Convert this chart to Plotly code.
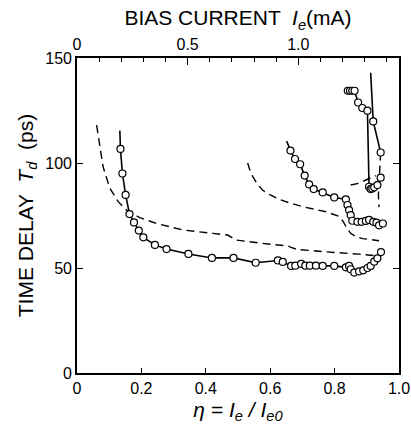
import plotly.graph_objects as go

# ---- data (eta = Ie/Ie0, Td in ps) ----
c1_eta = [0.135, 0.141, 0.151, 0.163, 0.177, 0.192, 0.206, 0.242, 0.278, 0.346, 0.419, 0.486,
          0.555, 0.624, 0.639, 0.665, 0.678, 0.696, 0.709, 0.723, 0.742, 0.763, 0.799, 0.835,
          0.845, 0.850, 0.861, 0.876, 0.889, 0.902, 0.912, 0.923, 0.933, 0.944]
c1_td = [106.7, 95.0, 84.8, 75.7, 71.7, 67.8, 64.6, 61.0, 59.0, 56.7, 54.8, 54.8,
         52.5, 53.6, 52.9, 51.0, 51.1, 52.0, 51.1, 51.1, 51.1, 51.0, 51.0, 50.3,
         51.0, 49.4, 47.8, 48.4, 48.9, 50.0, 51.0, 53.0, 54.6, 57.6]
c1_start_eta = [0.133]
c1_start_td = [115.5]

c2_eta = [0.663, 0.677, 0.693, 0.707, 0.721, 0.735, 0.763, 0.799, 0.835, 0.840, 0.845, 0.850,
          0.855, 0.871, 0.884, 0.897, 0.907, 0.920, 0.930, 0.938, 0.950]
c2_td = [105.9, 101.9, 99.4, 94.0, 89.8, 87.6, 86.0, 83.6, 82.7, 80.0, 77.6, 75.2,
         72.5, 72.0, 72.0, 72.4, 72.9, 72.0, 71.6, 70.3, 71.2]
c2_start_eta = [0.651]
c2_start_td = [110.5]

c3a_eta = [0.841, 0.848, 0.855, 0.862, 0.873, 0.886, 0.902, 0.907, 0.912, 0.917, 0.923]
c3a_td = [134.4, 134.4, 134.4, 134.4, 128.8, 126.2, 124.9, 88.7, 87.6, 87.9, 88.4]

c3b_eta = [0.920, 0.943]
c3b_td = [119.8, 105.0]
c3b_start_eta = [0.912]
c3b_start_td = [143.0]
c3b_extra_eta = [0.943, 0.933]
c3b_extra_td = [93.0, 89.5]

d1_eta = [0.061, 0.071, 0.081, 0.102, 0.128, 0.159, 0.195, 0.247, 0.329, 0.422, 0.468, 0.494,
          0.556, 0.600, 0.655, 0.665, 0.685, 0.720, 0.800, 0.876, 0.930]
d1_td = [118.0, 107.8, 98.2, 88.0, 81.6, 76.8, 74.0, 71.2, 68.1, 66.5, 65.7, 63.3,
         62.0, 61.3, 60.5, 59.8, 58.8, 58.3, 57.4, 56.6, 55.8]

d2_eta = [0.530, 0.536, 0.546, 0.560, 0.577, 0.600, 0.628, 0.660, 0.701, 0.773, 0.814, 0.825,
          0.838, 0.850, 0.865, 0.887, 0.938]
d2_td = [100.0, 97.0, 93.5, 90.0, 87.0, 84.8, 82.7, 81.0, 79.2, 76.8, 74.6, 72.5,
         69.0, 66.5, 65.0, 64.0, 63.0]

d3_eta = [0.850, 0.875, 0.897, 0.915, 0.928]
d3_td = [89.5, 90.3, 91.9, 93.0, 94.0]

d4_eta = [0.943, 0.940, 0.936, 0.938]
d4_td = [105.0, 95.0, 85.0, 79.0]

x_ticks = [0, 0.2, 0.4, 0.6, 0.8, 1.0]
x_ticklabels = ["0", "0.2", "0.4", "0.6", "0.8", "1.0"]
y_ticks = [0, 50, 100, 150]
top_ticks = [0, 0.5, 1.0]
top_ticklabels = ["0", "0.5", "1.0"]
Ie0_mA = 1.455

FONT = "Liberation Sans, Arial, sans-serif"
LW = 1.6
DASH = "8px,5px"
TICKSIZE = 16
TITLESIZE = 21

fig = go.Figure()

def solid(xs, ys):
    fig.add_trace(go.Scatter(x=xs, y=ys, mode="lines", line=dict(color="black", width=LW),
                             showlegend=False, hoverinfo="skip"))

def dashed(xs, ys):
    fig.add_trace(go.Scatter(x=xs, y=ys, mode="lines",
                             line=dict(color="black", width=1.4, dash=DASH),
                             showlegend=False, hoverinfo="skip"))

def circles(xs, ys):
    fig.add_trace(go.Scatter(x=xs, y=ys, mode="markers",
                             marker=dict(symbol="circle", size=7, color="white",
                                         line=dict(color="black", width=1.2)),
                             showlegend=False, hoverinfo="skip"))

dashed(d1_eta, d1_td)
dashed(d2_eta, d2_td)
dashed(d3_eta, d3_td)
dashed(d4_eta, d4_td)

solid(c1_start_eta + c1_eta, c1_start_td + c1_td)
solid(c2_start_eta + c2_eta, c2_start_td + c2_td)
solid(c3a_eta, c3a_td)
solid(c3b_start_eta + c3b_eta, c3b_start_td + c3b_td)

circles(c1_eta, c1_td)
circles(c2_eta, c2_td)
circles(c3a_eta, c3a_td)
circles(c3b_eta + c3b_extra_eta, c3b_td + c3b_extra_td)

# invisible trace to activate top axis
fig.add_trace(go.Scatter(x=[0, Ie0_mA], y=[None, None], xaxis="x2", mode="lines",
                         showlegend=False, hoverinfo="skip"))

fig.update_layout(
    width=411, height=431,
    margin=dict(l=77, r=12, t=58, b=58),
    paper_bgcolor="white", plot_bgcolor="white",
    font=dict(family=FONT, color="black", size=TICKSIZE),
    xaxis=dict(range=[0, 1.0], tickvals=x_ticks, ticktext=x_ticklabels, automargin=False,
               ticks="inside", ticklen=5, tickwidth=1.2, tickcolor="black",
               showline=True, linecolor="black", linewidth=1.6, mirror=False,
               showgrid=False, zeroline=False, tickfont=dict(size=TICKSIZE),
               title=dict(text="<i>η = I<sub>e</sub> / I<sub>e0</sub></i>",
                          font=dict(size=TITLESIZE), standoff=6)),
    xaxis2=dict(range=[0, Ie0_mA], overlaying="x", side="top", automargin=False,
                tickvals=top_ticks, ticktext=top_ticklabels,
                ticks="inside", ticklen=7, tickwidth=1.2, tickcolor="black",
                minor=dict(dtick=0.1, tick0=0, ticks="inside", ticklen=4,
                           tickwidth=1.2, tickcolor="black", showgrid=False),
                showline=True, linecolor="black", linewidth=1.6,
                showgrid=False, zeroline=False, tickfont=dict(size=TICKSIZE),
                title=dict(text="BIAS CURRENT  <i>I<sub>e</sub></i>(mA)",
                           font=dict(size=TITLESIZE), standoff=4)),
    yaxis=dict(range=[0, 150], tickvals=y_ticks, automargin=False,
               ticks="inside", ticklen=6, tickwidth=1.2, tickcolor="black",
               showline=True, linecolor="black", linewidth=1.6, mirror="ticks",
               showgrid=False, zeroline=False, tickfont=dict(size=TICKSIZE),
               title=dict(text="TIME DELAY  <i>T<sub>d</sub></i>  (ps)",
                          font=dict(size=TITLESIZE), standoff=6)),
)

fig.write_html("out.html", config={"displayModeBar": False})

# remove the default page margin so the figure sits at the window's top-left corner
with open("out.html", "r", encoding="utf-8") as f:
    html = f.read()
html = html.replace("<head>", "<head><style>html,body{margin:0;padding:0;overflow:hidden;}</style>", 1)
with open("out.html", "w", encoding="utf-8") as f:
    f.write(html)
